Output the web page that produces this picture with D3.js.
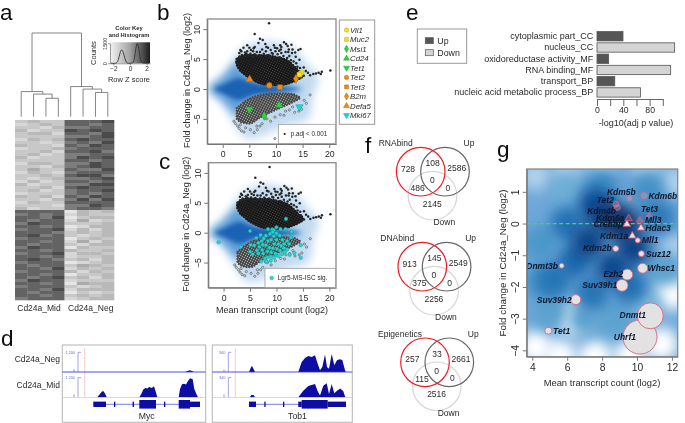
<!DOCTYPE html>
<html>
<head>
<meta charset="utf-8">
<script src="https://cdn.jsdelivr.net/npm/d3@7/dist/d3.min.js"></script>
<style>
html, body { margin: 0; padding: 0; background: #fff; }
svg { display: block; }
text { font-family: "Liberation Sans", Arial, sans-serif; fill: #2a2a2a; }
</style>
</head>
<body>
<div id="chart"></div>
<script>
//Panel a: heatmap rows, one digit per sample (0 = z -2.25, 9 = z +2.25)
const heatTop = ["23227778","12327767","22136677","31228787","23317768","22226678","13237877","22126768","32217687","12236777",
  "22317786","23126677","31226878","22227767","13326687","22136787","24227668","13216777","22327886","21236678",
  "13127767","31226688","22317877","23126778","12226767","32317687","22136868","13227777","22216687","31226776"];
const heatBottom = ["77770323","67671322","77680233","76771412","68772223","77670133","67781313","77762323","78672123","67770232",
  "77671413","76772133","68770322","77673223","67781332","77671223","78762313","67770123","76772432","77681323",
  "67773132","77670223","76782313","68771222","77670433","67772123","77681333","76770212","77672323","67771233"];
const heatSamples = ["Cd24a_Mid", "Cd24a_Neg"];
//dendrogram merge heights, in tree walk order
const mergeHeights = [100, 30, 27, 22, 36, 33, 29];
const histZ = [-2.3, -1.8, -1.5, -1.3, -1.1, -1, -0.8, -0.6, -0.4, -0.2, 0, 0.3, 0.5, 0.7, 0.88, 1.05, 1.25, 1.45, 1.7, 2.3];
const histCounts = [0, 0, 120, 500, 950, 1000, 800, 350, 60, 0, 0, 30, 300, 1100, 1500, 1100, 350, 50, 0, 0];

//Panels b, c: MA plot
const upX = [2.6, 3, 4, 5, 6, 7, 8, 10, 12, 13, 14, 15];
const upHigh = [4.6, 5.3, 5.6, 5.7, 5.6, 5.6, 5.6, 5.3, 4.8, 4.1, 3.2, 2.5];
const upLow = [4.2, 3.5, 2.6, 1.9, 1.4, 1, 0.8, 0.7, 0.9, 1.2, 1.6, 2.1];
const downX = [2.6, 3.5, 5, 7, 9, 11, 13, 14.5];
const downHigh = [-3.2, -2.5, -1.6, -1, -0.75, -0.7, -0.8, -1.4];
const downLow = [-5, -5.6, -5.8, -4.8, -3.9, -3.1, -2.3, -1.6];
const upOutX = [8.7, 6, 7, 7.5, 8, 6.7, 4.6, 3.9, 5, 5.3, 3.5, 4.2, 10.8, 11.5, 11.9, 12.2, 12.9, 13.1, 14.2, 14.6, 11, 9.6, 10.2, 8.5, 9, 6, 7.4, 13.7, 14.4, 13.8, 15.2, 15.6, 16, 16.4, 17, 17.5, 18, 18.4, 18.6, 20.2, 15.2, 14.5, 13, 12.3, 2.6, 3.1, 3.3, 5.8, 8.2, 9.8, 10.9,
  3.2, 3.6, 4, 4.4, 4.8, 5.2, 5.6, 6, 6.4, 6.4, 6.9, 7.3, 7.7, 8.1, 8.1, 8.6, 9, 9.4, 9.8, 9.9, 10.3, 10.7, 11, 11.4, 11.8, 12.1, 12.5, 12.8, 13.3, 13.2, 14, 14.6, 7, 5.7, 4.6, 9.2, 10.6, 12.4, 13.6];
const upOutY = [11, 9.2, 8.4, 8.2, 7.5, 7.7, 7.3, 6.9, 6.9, 6.5, 6.3, 6.1, 7.3, 7.8, 7.5, 7.2, 7.4, 6.6, 6.5, 6.7, 7, 7.3, 6.8, 6.9, 6.5, 7, 6.6, 5.4, 4.9, 4.3, 3.6, 3, 2.7, 2.3, 2.5, 2.6, 2.7, 2.5, 2.9, 3.1, 2.2, 3.5, 6, 6.2, 5, 6, 6.5, 6.8, 7, 6.9, 6.6,
  5.4, 5.7, 5.5, 5.9, 5.6, 5.9, 5.4, 5.8, 5.5, 6.2, 5.7, 5.3, 5.9, 5.5, 6.3, 5.7, 5.3, 5.9, 5.4, 6.3, 5.8, 5.3, 6, 5.5, 6.2, 5.2, 5.5, 4.8, 4.6, 3.8, 3.7, 2.9, 6.2, 6.3, 6.3, 6, 6.4, 6.6, 6.1];
const downOutX = [2.1, 2.4, 2.8, 3.1, 3.5, 4, 4.3, 5.2, 5.9, 6.4, 7, 7.4, 8.3, 9, 9.8, 10.8, 11.5, 11.8, 12.5, 13.5, 14.3, 14.8, 15.7, 16.4, 15.3, 9.8, 6.5, 3.3, 7.9, 13.1];
const downOutY = [-5.4, -5.8, -6.2, -6.6, -7, -7.2, -6.5, -6.8, -7.3, -6.2, -6.2, -5.8, -5, -5.4, -4.7, -4.3, -4.4, -3.7, -3.5, -3.9, -3.7, -3.4, -2.4, -1, -1.9, -8.3, -6.8, -6, -4.9, -3];
const fanX = [-3, 0, 2.5, 4, 8, 13, 16, 18, 17, 16, 12, 7, 4, 1, -1];
const fanY = [0, 2.5, 5.5, 7, 8, 7, 4, 2, -1, -5, -6, -8, -8, -4, -1.5];
const midX = [-2.5, 0, 3, 4, 8, 13, 15, 13, 8, 4, 3, 0];
const midY = [0, 1.9, 4.6, 3, 1, 0.5, 0, -0.6, -0.8, -2.5, -4.5, -1.9];
const coreX = [-1.5, 0, 3, 6, 11, 14.5, 11, 6, 3, 0];
const coreY = [0, 0.7, 1.8, 0.9, 0.4, 0, -0.5, -1, -1.8, -0.7];
const markerGenes = ["Vil1", "Muc2", "Msi1", "Cd24", "Tet1", "Tet2", "Tet3", "B2m", "Defa5", "Mki67"];
const markerMeans = [14.75, 14.4, 7.8, 10.6, 5, 8.75, 10.75, 13.75, 5.05, 14.4];
const markerFolds = [2.7, 2.4, -4.5, -2.7, -3.4, 0.6, 0.3, 1.7, 1.6, -3];
const lgr5X = [-0.94, 5, 11.8, 12.9, 14.6, 14.6, 13.4, 12.5, 11.6, 3.25, 5.1, 5, 7.1, 7.8, 8.9, 8.1, 10, 10.4, 11.1, 12, 12.75, 11.7, 10.75, 10, 9.2, 8.4, 9.5,
  6.2, 7, 7.6, 6.6, 5.8, 6.8, 7.4, 8, 8.4, 8, 8.7, 7.3, 6.3, 5.5, 6.6, 7.5, 8.3, 9, 9.3, 9.6, 9, 9.5, 10, 10.4, 10.1, 10.7, 9.8, 8.9, 8.3, 9.5, 10.9, 11.1, 10.6, 11.5, 11.4, 12, 12.4, 7.2, 8.8, 10, 9.3];
const lgr5Y = [-1.6, 0.28, 2.3, 0.17, -2.1, -4.2, -3.4, -3.7, -3.2, -2.4, -2.05, -3.2, -4.8, -4.3, -4.7, -4.8, -3.8, -3.9, -3.6, -2.8, -0.8, 0.6, 0.6, 0.9, 0.56, 0.6, 0.44,
  -0.9, -0.4, -1, -1.7, -2.1, -2.4, -2, -0.5, -1.4, -2.1, -2.5, -2.9, -3, -3.6, -3.5, -3.5, -3.1, -3.3, -2.6, -1.9, -1.2, -0.6, -1.2, -1.9, -2.7, -3, -3.5, -4, -4.1, -4.2, -2.2, -1.2, -0.5, -1.9, -2.6, -1.4, -1.9, -1.4, -0.2, -0.1, 0.1];
const maXTicks = [0, 5, 10, 15, 20];
const maYTicks = [-5, 0, 5, 10];

//Panel d: coverage tracks, position in kb
const mycMidX = [3.5, 3.7, 3.94, 4.1, 4.3, 4.44, 7.7, 7.9, 8.1, 8.3, 8.5, 8.7, 8.94, 9.17, 9.37, 9.5, 11.64, 11.77, 11.97, 12.17, 12.37, 12.57, 12.77, 13.04, 13.2, 13.44, 13.57];
const mycMidY = [0, 160, 340, 380, 200, 0, 0, 200, 480, 560, 540, 620, 560, 680, 300, 0, 0, 500, 800, 820, 780, 1000, 1160, 1100, 500, 150, 0];
const mycNegX = [12.3, 12.5, 12.77, 12.97, 13.17];
const mycNegY = [0, 60, 100, 60, 0];
const tobNegX = [3.67, 3.87, 3.97, 4.14, 4.27, 8.6, 8.94, 9.27, 9.6, 9.94, 10.27, 10.54, 10.77, 11, 11.27, 11.47, 11.67, 11.94, 12.2, 12.47, 12.74, 13, 13.27, 13.34];
const tobNegY = [0, 80, 104, 46, 0, 0, 173, 242, 276, 260, 288, 144, 29, 86, 300, 86, 58, 311, 115, 202, 219, 207, 30, 0];
const tobMidX = [3.74, 3.94, 4.14, 4.27, 8.6, 9.1, 9.6, 10.27, 10.54, 10.77, 11.1, 11.44, 11.67, 11.94, 12.2, 12.47, 12.8, 13.1, 13.3];
const tobMidY = [0, 46, 34, 0, 0, 115, 196, 230, 104, 29, 200, 242, 58, 230, 69, 115, 150, 104, 0];
const mycExons = [[3.1, 4.37, 1], [5.17, 5.3, 1], [7.03, 7.17, 1], [7.7, 9.37, 2], [10.17, 10.3, 1], [11.64, 12.77, 2], [12.77, 13.77, 1]];
const tobExons = [[3.67, 4.37, 1], [5.2, 5.33, 1], [7.07, 7.2, 1], [8.6, 8.94, 1], [8.94, 11.54, 2], [11.54, 13.37, 1]];
const trackNames = ["Cd24a_Neg", "Cd24a_Mid"];

//Panel e
const goTerms = ["cytoplasmic part_CC", "nucleus_CC", "oxidoreductase activity_MF", "RNA binding_MF", "transport_BP", "nucleic acid metabolic process_BP"];
const goValues = [39.5, 118, 17.7, 112, 27, 66];
const goDirection = ["Up", "Down", "Up", "Down", "Up", "Down"];

//Panel f
const vennNames = ["RNAbind", "DNAbind", "Epigenetics"];
const vennCounts = [[728, 108, 2586, 0, 486, 0, 2145], [913, 145, 2549, 0, 375, 0, 2256], [257, 33, 2661, 0, 115, 0, 2516]];

//Panel g
const epiGenes = ["Kdm5b", "Kdm6b", "Tet2", "Kdm4b", "Tet3", "Kdm6a", "Mll3", "Crebbp", "Hdac3", "Kdm1a", "Mll1", "Kdm2b", "Suz12", "Whsc1", "Dnmt3b", "Ezh2", "Suv39h1", "Suv39h2", "Tet1", "Dnmt1", "Uhrf1"];
const epiMean = [9.58, 10.41, 8.79, 8.87, 10.7, 9.52, 10.17, 9.42, 10.23, 9.73, 10.04, 8.78, 10.25, 10.32, 5.68, 9.44, 9.14, 6.49, 4.92, 10.76, 10.17];
const epiFold = [0.79, 0.88, 0.61, 0.51, 0.26, 0.16, 0.11, -0.02, -0.14, -0.39, -0.53, -0.79, -0.95, -1.41, -1.33, -1.61, -1.95, -2.4, -3.38, -2.91, -3.58];
const epiSize = [9, 13, 9, 9, 7, 7, 7, 7, 7, 7, 6.5, 9, 9, 26, 6.5, 31, 37, 26, 13, 175, 300];
const cloudX = [9.2, 8.2, 7.2, 9.8, 8.6, 6.4, 5.2, 7.4, 9.6, 11.2, 11.6, 4.4, 6, 8, 10.6, 4.6, 5, 7, 8.8, 10.5, 6, 7.6];
const cloudY = [0, 0.2, -0.6, -0.8, -1.4, -1.2, -1.8, -2.2, -2, 0.2, -1.4, -0.6, 1.1, 1.2, 1.1, -1.8, -2.8, -3, -3, -2.6, 0, 0.6];
const cloudLevel = [1, 0.95, 0.92, 0.92, 0.9, 0.78, 0.74, 0.74, 0.75, 0.72, 0.55, 0.6, 0.5, 0.65, 0.62, 0.62, 0.55, 0.55, 0.55, 0.45, 0.75, 0.88];
const paleX = [11.4, 12, 9.6, 7.6, 5.6, 4.2, 6.4];
const paleY = [-3.8, -2.2, -4.2, -4.2, -4.2, -3.9, -3];
const haloX = [4.2, 12.2, 12.2, 8, 6, 10.5];
const haloY = [1.5, 1.3, -0.8, 1.8, 1.7, 1.8];

//Layout
const width = 685;
const height = 423;
const svg = d3.select("#chart").append("svg").attr("width", width).attr("height", height);
const defs = svg.append("defs");
defs.append("filter").attr("id", "scan").attr("filterUnits", "userSpaceOnUse")
    .attr("x", 0).attr("y", 0).attr("width", width).attr("height", height)
    .append("feGaussianBlur").attr("stdDeviation", 0.3);
const root = svg.append("g").attr("filter", "url(#scan)");

function blur(id, dev) {
  defs.append("filter").attr("id", id)
      .attr("x", "-40%").attr("y", "-40%").attr("width", "180%").attr("height", "180%")
      .append("feGaussianBlur").attr("stdDeviation", dev);
}
blur("soft2", 2);
blur("soft4", 4);
blur("soft7", 7);

function label(parent, x, y, str, size, opts) {
  opts = opts || {};
  var t = parent.append("text").attr("x", x).attr("y", y).attr("font-size", size)
                .attr("text-anchor", opts.anchor || "start").text(str);
  if (opts.rotate) t.attr("transform", "rotate(-90 " + x + " " + y + ")");
  if (opts.weight) t.attr("font-weight", opts.weight);
  if (opts.italic) t.attr("font-style", "italic");
  if (opts.fill) t.style("fill", opts.fill);
  return t;
}

//panel letters
[["a", 0, 19.5], ["b", 157, 19.5], ["c", 159, 169], ["d", 1, 346], ["e", 406, 19.5], ["f", 365, 153], ["g", 497, 157]].forEach(function (d) {
  label(root, d[1], d[2], d[0], 22.5, {fill: "#111"});
});

//---- a: heatmap ----
const heatX = d3.scaleBand().domain(d3.range(8)).range([15, 114]);
const heatRows = heatTop.concat(heatBottom);
const heatY = d3.scaleBand().domain(d3.range(heatRows.length)).range([120, 300]);
const zGrey = d3.scaleLinear().domain([-2.4, 0, 2.4]).range(["#f4f4f4", "#a2a2a2", "#1c1c1c"]);
const panelA = root.append("g");
heatRows.forEach(function (row, i) {
  panelA.selectAll(null).data(row.split("").map(Number)).enter().append("rect")
        .attr("x", function (d, j) { return heatX(j); })
        .attr("y", heatY(i))
        .attr("width", heatX.bandwidth() + 0.3)
        .attr("height", heatY.bandwidth() + 0.3)
        .attr("fill", function (d) { return zGrey((d - 4.5) / 2.25); });
});
label(panelA, 39, 311, heatSamples[0], 8.5, {anchor: "middle"});
label(panelA, 90.7, 311, heatSamples[1], 8.5, {anchor: "middle"});

//dendrogram, heights through a scale
const dendroY = d3.scaleLinear().domain([0, 100]).range([116.7, 33]);
const leafX = function (i) { return heatX(i) + heatX.bandwidth() / 2; };
const tree = [[0, [1, [2, 3]]], [4, [5, [6, 7]]]];
var mergeIndex = 0;
function drawTree(node) {
  if (typeof node === "number") return {x: leafX(node), y: dendroY(0)};
  var h = dendroY(mergeHeights[mergeIndex++]);
  var a = drawTree(node[0]);
  var b = drawTree(node[1]);
  panelA.append("path").attr("fill", "none").attr("stroke", "#666").attr("stroke-width", 0.8)
        .attr("d", "M" + a.x + "," + a.y + "V" + h + "H" + b.x + "V" + b.y);
  return {x: (a.x + b.x) / 2, y: h};
}
drawTree(tree);

//color key
const keyX = d3.scaleLinear().domain([-2.4, 2.4]).range([110, 150]);
const keyY = d3.scaleLinear().domain([0, 1500]).range([63.3, 43.3]);
const keyGrad = defs.append("linearGradient").attr("id", "keyGrad");
d3.range(-2.4, 2.41, 0.4).forEach(function (z) {
  keyGrad.append("stop").attr("offset", ((z + 2.4) / 4.8 * 100) + "%").attr("stop-color", zGrey(z));
});
panelA.append("rect").attr("x", 110).attr("y", 42.3).attr("width", 40).attr("height", 21).attr("fill", "url(#keyGrad)");
panelA.append("path").attr("fill", "none").attr("stroke", "#333").attr("stroke-width", 0.9)
      .attr("d", d3.line().x(function (d, i) { return keyX(histZ[i]); }).y(function (d) { return keyY(d); }).curve(d3.curveMonotoneX)(histCounts));
const keyXAxis = panelA.append("g").attr("transform", "translate(0,63.3)")
      .call(d3.axisBottom(keyX).tickValues([-2, 0, 2]).tickFormat(d3.format("d")).tickSize(2).tickSizeOuter(0).tickPadding(1));
keyXAxis.selectAll("text").attr("font-size", 6.5);
const keyYAxis = panelA.append("g").attr("transform", "translate(110,0)")
      .call(d3.axisLeft(keyY).tickValues([0, 1500]).tickFormat(d3.format("d")).tickSize(2).tickSizeOuter(0));
keyYAxis.selectAll("text").attr("font-size", 5.5)
      .attr("x", 0).attr("y", -3).attr("dy", 0).attr("text-anchor", "middle").attr("transform", "rotate(-90)");
[keyXAxis, keyYAxis].forEach(function (a) {
  a.selectAll("path,line").attr("stroke", "#555").attr("stroke-width", 0.6);
});
label(panelA, 129, 29.5, "Color Key", 5.8, {anchor: "middle", weight: "bold"});
label(panelA, 129, 36.5, "and Histogram", 5.8, {anchor: "middle", weight: "bold"});
label(panelA, 96, 53, "Counts", 7.5, {anchor: "middle", rotate: true});
label(panelA, 129, 82, "Row Z score", 7.5, {anchor: "middle"});

//---- b, c: MA plots ----
function speckle(id, size, bg, dot, r) {
  const pat = defs.append("pattern").attr("id", id).attr("patternUnits", "userSpaceOnUse")
                  .attr("width", size).attr("height", size).attr("patternTransform", "rotate(27)");
  pat.append("rect").attr("width", size).attr("height", size).attr("fill", bg);
  pat.append("circle").attr("cx", size / 2).attr("cy", size / 2).attr("r", r).attr("fill", dot);
}
speckle("speckleDown", 2.3, "#363636", "#bdbdbd", 0.68);
speckle("speckleUp", 2.3, "#151515", "#4c4c4c", 0.6);

function drawMA(top, bottom, left, clipId) {
  const x = d3.scaleLinear().domain([-2.89, 21.26]).range([left, 336]);
  const y = d3.scaleLinear().domain([-9.2, 11.7]).range([bottom, top]);
  const p = root.append("g");
  defs.append("clipPath").attr("id", clipId).append("rect")
      .attr("x", left).attr("y", top).attr("width", 336 - left).attr("height", bottom - top);
  const inner = p.append("g").attr("clip-path", "url(#" + clipId + ")");
  const blob = d3.line().x(function (d) { return x(d[0]); }).y(function (d) { return y(d[1]); }).curve(d3.curveCardinalClosed);
  inner.append("path").attr("d", blob(d3.zip(fanX, fanY))).attr("fill", "#c2daf0").attr("filter", "url(#soft4)");
  inner.append("path").attr("d", blob(d3.zip(midX, midY))).attr("fill", "#5b9bd5").attr("filter", "url(#soft4)");
  inner.append("path").attr("d", blob(d3.zip(coreX, coreY))).attr("fill", "#1a62b2").attr("filter", "url(#soft2)");

  //dense parts of the clouds
  const cloudArea = d3.area().x(function (d) { return x(d[0]); }).y0(function (d) { return y(d[2]); }).y1(function (d) { return y(d[1]); }).curve(d3.curveMonotoneX);
  const upPts = d3.zip(upX, upHigh, upLow);
  const downPts = d3.zip(downX, downHigh, downLow);
  inner.append("path").attr("d", cloudArea(downPts)).attr("fill", "url(#speckleDown)");
  const edge = inner.append("g").attr("fill", "none").attr("stroke-linecap", "round").attr("stroke-dasharray", "0 2.8");
  edge.append("path").attr("stroke", "#4a4a4a").attr("stroke-width", 2)
      .attr("d", cloudArea(downPts));
  inner.append("path").attr("d", cloudArea(upPts)).attr("fill", "url(#speckleUp)");
  edge.append("path").attr("stroke", "#1d1d1d").attr("stroke-width", 3)
      .attr("d", cloudArea(upPts));

  //scattered genes outside the dense parts
  inner.selectAll(null).data(d3.zip(downOutX, downOutY)).enter().append("circle")
       .attr("cx", function (d) { return x(d[0]); }).attr("cy", function (d) { return y(d[1]); })
       .attr("r", 1.1).attr("fill", "#ddd").attr("stroke", "#444").attr("stroke-width", 0.6);
  inner.selectAll(null).data(d3.zip(upOutX, upOutY)).enter().append("circle")
       .attr("cx", function (d) { return x(d[0]); }).attr("cy", function (d) { return y(d[1]); })
       .attr("r", 1.25).attr("fill", "#262626");

  p.append("rect").attr("x", left).attr("y", top).attr("width", 336 - left).attr("height", bottom - top)
   .attr("fill", "none").attr("stroke", "#8a8a8a").attr("stroke-width", 1.3);
  const xa = p.append("g").attr("transform", "translate(0," + bottom + ")")
              .call(d3.axisBottom(x).tickValues(maXTicks).tickSize(4).tickSizeOuter(0).tickPadding(3));
  const ya = p.append("g").attr("transform", "translate(" + left + ",0)")
              .call(d3.axisLeft(y).tickValues(maYTicks).tickSize(4).tickSizeOuter(0));
  ya.selectAll("text").attr("x", 0).attr("y", -7).attr("dy", 0).attr("text-anchor", "middle").attr("transform", "rotate(-90)");
  [xa, ya].forEach(function (a) {
    a.select(".domain").attr("stroke", "#777");
    a.selectAll("line").attr("stroke", "#777");
    a.selectAll("text").attr("font-size", 8.7);
  });
  label(p, 189.5, (top + bottom) / 2 - 1, "Fold change in Cd24a_Neg (log2)", 9, {anchor: "middle", rotate: true});
  return {p: p, x: x, y: y};
}

const maB = drawMA(19, 144, 207.3, "clipB");
const maC = drawMA(162.7, 287.7, 208.3, "clipC");
label(maC.p, 272, 313, "Mean transcript count (log2)", 9, {anchor: "middle"});

//gene markers on b
const markerStyle = {
  Vil1: ["#f5e11d", d3.symbolCircle, 0], Muc2: ["#f5e11d", d3.symbolSquare, 0], Msi1: ["#2fd23c", d3.symbolDiamond, 0],
  Cd24: ["#2fd23c", d3.symbolTriangle, 0], Tet1: ["#2fd23c", d3.symbolTriangle, 180], Tet2: ["#f08a14", d3.symbolCircle, 0],
  Tet3: ["#f08a14", d3.symbolSquare, 0], B2m: ["#f08a14", d3.symbolDiamond, 0], Defa5: ["#f08a14", d3.symbolTriangle, 0],
  Mki67: ["#22d3dc", d3.symbolTriangle, 180]
};
function marker(parent, gene, px, py, size) {
  const s = markerStyle[gene];
  parent.append("path").attr("d", d3.symbol().type(s[1]).size(size)())
        .attr("transform", "translate(" + px + "," + py + ") rotate(" + s[2] + ")")
        .attr("fill", s[0]).attr("stroke", d3.color(s[0]).darker(0.8)).attr("stroke-width", 0.5);
}
markerGenes.forEach(function (g, i) {
  marker(maB.p, g, maB.x(markerMeans[i]), maB.y(markerFolds[i]), 24);
});
maB.p.append("rect").attr("x", 339.3).attr("y", 20).attr("width", 35.4).attr("height", 104.3)
     .attr("fill", "#fff").attr("stroke", "#999").attr("stroke-width", 1);
const legendY = d3.scalePoint().domain(markerGenes).range([30, 115.3]);
markerGenes.forEach(function (g) {
  marker(maB.p, g, 346.5, legendY(g), 15);
  label(maB.p, 350, legendY(g) + 2.8, g, 7.8, {italic: true});
});
maB.p.append("rect").attr("x", 278.3).attr("y", 124.3).attr("width", 57).attr("height", 19.2).attr("fill", "#fff").attr("stroke", "#999").attr("stroke-width", 0.8);
maB.p.append("circle").attr("cx", 284.7).attr("cy", 134).attr("r", 1.1).attr("fill", "#222");
label(maB.p, 290.7, 136.3, "p.adj < 0.001", 6.3);

//Lgr5 signature on c
maC.p.selectAll(null).data(d3.zip(lgr5X, lgr5Y)).enter().append("circle")
     .attr("cx", function (d) { return maC.x(d[0]); }).attr("cy", function (d) { return maC.y(d[1]); })
     .attr("r", 1.8).attr("fill", "#23d6d0").attr("stroke", "#128f8f").attr("stroke-width", 0.4);
maC.p.append("rect").attr("x", 265).attr("y", 268.3).attr("width", 70.5).attr("height", 19.2).attr("fill", "#fff").attr("stroke", "#999").attr("stroke-width", 0.8);
maC.p.append("circle").attr("cx", 271.7).attr("cy", 278).attr("r", 1.8).attr("fill", "#23d6d0").attr("stroke", "#128f8f").attr("stroke-width", 0.4);
label(maC.p, 277.7, 280.4, "Lgr5-MS-ISC sig.", 6.5);

//---- d: tracks ----
const trackBlue = "#0a0aa5";
function drawTracks(left, right, name, negX, negY, midXs, midYs, maxVal, maxText, exons, pinkKb, axisKb) {
  const p = root.append("g");
  const x = d3.scaleLinear().domain([0, (right - left) / 10]).range([left, right]);
  const negScale = d3.scaleLinear().domain([0, maxVal]).range([372, 352.3]);
  const midScale = d3.scaleLinear().domain([0, maxVal]).range([397.3, 377.6]);
  p.append("rect").attr("x", left).attr("y", 345).attr("width", right - left).attr("height", 77.3)
   .attr("fill", "#fff").attr("stroke", "#bbb").attr("stroke-width", 1.1);
  p.append("line").attr("x1", x(pinkKb)).attr("x2", x(pinkKb)).attr("y1", 348).attr("y2", 397).attr("stroke", "#f7c4c4").attr("stroke-width", 0.9);
  [negScale, midScale].forEach(function (s) {
    p.append("path").attr("fill", "none").attr("stroke", "#a3a3ea").attr("stroke-width", 1)
     .attr("d", "M" + (x(axisKb) + 3) + "," + s(maxVal) + "H" + x(axisKb) + "V" + s(0));
    label(p, x(axisKb) - 3, s(maxVal) + 1.5, maxText, 3.8, {anchor: "end", fill: "#7070cc"});
    label(p, x(axisKb) - 3, s(0), "0", 3.8, {anchor: "end", fill: "#7070cc"});
  });
  const line = function (scale) {
    return d3.area().x(function (d) { return x(d[0]); }).y0(scale(0)).y1(function (d) { return scale(d[1]); });
  };
  p.append("path").attr("d", line(negScale)(d3.zip(negX, negY))).attr("fill", trackBlue);
  p.append("path").attr("d", line(midScale)(d3.zip(midXs, midYs))).attr("fill", trackBlue);
  p.append("line").attr("x1", left).attr("x2", right).attr("y1", 372).attr("y2", 372).attr("stroke", "#3a3ae0").attr("stroke-width", 0.9);
  p.append("line").attr("x1", left).attr("x2", right).attr("y1", 397.5).attr("y2", 397.5).attr("stroke", "#c8c8c8").attr("stroke-width", 0.7);
  //gene model
  const first = d3.min(exons, function (e) { return e[0]; });
  const last = d3.max(exons, function (e) { return e[1]; });
  p.append("line").attr("x1", x(first)).attr("x2", x(last)).attr("y1", 404.3).attr("y2", 404.3).attr("stroke", "#6a6ae0").attr("stroke-width", 0.9);
  p.selectAll(null).data(exons).enter().append("rect")
   .attr("x", function (d) { return x(d[0]); })
   .attr("width", function (d) { return x(d[1]) - x(d[0]); })
   .attr("y", function (d) { return 404.3 - (d[2] === 2 ? 4.3 : 2.7); })
   .attr("height", function (d) { return d[2] === 2 ? 8.6 : 5.4; })
   .attr("fill", trackBlue);
  label(p, x((first + last) / 2), 419.3, name, 8.7, {anchor: "middle"});
}
drawTracks(62.3, 205.7, "Myc", mycNegX, mycNegY, mycMidX, mycMidY, 1200, "1,200", mycExons, 2.24, 1.57);
drawTracks(212.3, 352.3, "Tob1", tobNegX, tobNegY, tobMidX, tobMidY, 340, "340", tobExons, 2.3, 1.6);
label(root, 60, 362, trackNames[0], 8.5, {anchor: "end"});
label(root, 60, 388, trackNames[1], 8.5, {anchor: "end"});

//---- e: bars ----
const barX = d3.scaleLinear().domain([0, 100]).range([597, 662.8]);
const barY = d3.scaleBand().domain(goTerms).range([30.7, 98]).paddingInner(0.17).paddingOuter(0.08);
const goColor = {Up: "#555", Down: "#d4d4d4"};
const panelE = root.append("g");
panelE.selectAll(null).data(goTerms).enter().append("rect")
      .attr("x", barX(0))
      .attr("y", function (d) { return barY(d); })
      .attr("width", function (d, i) { return barX(goValues[i]) - barX(0); })
      .attr("height", barY.bandwidth())
      .attr("fill", function (d, i) { return goColor[goDirection[i]]; })
      .attr("stroke", "#555").attr("stroke-width", 0.8);
goTerms.forEach(function (t) {
  label(panelE, 593.3, barY(t) + barY.bandwidth() / 2 + 3, t, 9, {anchor: "end"});
});
const barAxis = panelE.append("g").attr("transform", "translate(0,99)")
      .call(d3.axisBottom(barX).tickValues([0, 20, 40, 60, 80, 100]).tickSize(7).tickSizeOuter(0).tickPadding(1)
      .tickFormat(function (d) { return d === 0 || d === 40 || d === 80 ? d : ""; }));
barAxis.selectAll("text").attr("font-size", 8.7);
barAxis.selectAll("path,line").attr("stroke", "#666");
label(panelE, 636, 126.3, "-log10(adj p value)", 9, {anchor: "middle"});
panelE.append("rect").attr("x", 417.3).attr("y", 29).attr("width", 49.4).attr("height", 34.3)
      .attr("fill", "#fff").attr("stroke", "#999").attr("stroke-width", 1);
[["Up", 40.7], ["Down", 52.7]].forEach(function (d) {
  panelE.append("rect").attr("x", 425.3).attr("y", d[1] - 3).attr("width", 8).attr("height", 6)
        .attr("fill", goColor[d[0]]).attr("stroke", "#555").attr("stroke-width", 0.7);
  label(panelE, 437.3, d[1] + 3.2, d[0], 8.8);
});

//---- f: venns ----
const vennOrigins = [[420.7, 171.7], [422.3, 266.7], [425, 362.3]];
const vennSlots = [[-12.7, -3], [12, -8.4], [36, -3.4], [11.6, 8.6], [-3, 16.3], [27.3, 16], [11.6, 32]];
vennNames.forEach(function (name, i) {
  const ox = vennOrigins[i][0];
  const oy = vennOrigins[i][1];
  const v = root.append("g").attr("transform", "translate(" + ox + "," + oy + ")");
  [[11.8, 24, "#d6d6d6"], [24.3, 0, "#666"], [0, 0, "#ee1c25"]].forEach(function (c) {
    v.append("circle").attr("cx", c[0]).attr("cy", c[1]).attr("r", 24.3)
     .attr("fill", "none").attr("stroke", c[2]).attr("stroke-width", 1.2);
  });
  vennCounts[i].forEach(function (n, j) {
    label(v, vennSlots[j][0], vennSlots[j][1] + 3, n, 8.5, {anchor: "middle"});
  });
  label(v, -25, -25.5, name, 8.5, {anchor: "middle"});
  label(v, 48.3, -25.5, "Up", 8.5, {anchor: "middle"});
  label(v, 23.6, 53.3, "Down", 8.5, {anchor: "middle"});
});

//---- g: bubbles ----
const gX = d3.scaleLinear().domain([3.68, 12.33]).range([526.7, 677.7]);
const gY = d3.scaleLinear().domain([-4.2, 1.72]).range([356.7, 169]);
const gR = d3.scaleSqrt().domain([0, 300]).range([0, 17]);
const panelG = root.append("g");
defs.append("clipPath").attr("id", "clipG").append("rect").attr("x", 526.7).attr("y", 169).attr("width", 151).attr("height", 187.7);
const gInner = panelG.append("g").attr("clip-path", "url(#clipG)");
gInner.append("rect").attr("x", 526.7).attr("y", 169).attr("width", 151).attr("height", 187.7).attr("fill", "#6ea7d8");
gInner.selectAll(null).data(d3.zip(paleX, paleY)).enter().append("circle")
      .attr("cx", function (d) { return gX(d[0]); }).attr("cy", function (d) { return gY(d[1]); })
      .attr("r", 17).attr("fill", "#fff").attr("filter", "url(#soft7)");
gInner.selectAll(null).data(d3.zip(haloX, haloY)).enter().append("circle")
      .attr("cx", function (d) { return gX(d[0]); }).attr("cy", function (d) { return gY(d[1]); })
      .attr("r", 15).attr("fill", "#b3d2ec").attr("filter", "url(#soft7)");
const cloudPts = d3.zip(cloudX, cloudY, cloudLevel).sort(function (a, b) { return a[2] - b[2]; });
gInner.selectAll(null).data(cloudPts).enter().append("circle")
      .attr("cx", function (d) { return gX(d[0]); }).attr("cy", function (d) { return gY(d[1]); })
      .attr("r", 17).attr("fill", function (d) { return d3.interpolateBlues(d[2]); }).attr("filter", "url(#soft7)");
gInner.append("line").attr("x1", 526.7).attr("x2", 677.7).attr("y1", gY(0)).attr("y2", gY(0))
      .attr("stroke", "#39e05a").attr("stroke-width", 1.2).attr("stroke-dasharray", "4 2.5");

const triangleGenes = ["Tet3", "Kdm6a", "Mll3", "Crebbp", "Hdac3", "Kdm1a"];
//label placement: dx, dy from the point, anchor
const labelPlace = {
  Kdm5b: [6, -6, "end"], Kdm6b: [4.3, 0, "start"], Tet2: [-2, -4.3, "end"], Kdm4b: [-1.3, 3.3, "end"], Tet3: [-8.3, -6, "start"],
  Kdm6a: [-4.3, 0, "end"], Mll3: [5, 0, "start"], Crebbp: [-3.7, 0.3, "end"], Hdac3: [4.3, 0, "start"], Kdm1a: [-4, 0, "end"],
  Mll1: [4.3, 0, "start"], Kdm2b: [-4, 0, "end"], Suz12: [4.7, 0, "start"], Whsc1: [5, 0, "start"], Dnmt3b: [-3.7, 0, "end"],
  Ezh2: [-4, 0, "end"], Suv39h1: [-4.7, 0, "end"], Suv39h2: [-4, 0, "end"], Tet1: [4.7, 0, "start"], Dnmt1: [-4.3, -0.7, "end"], Uhrf1: [-4, 0, "end"]
};
const epiOrder = d3.range(epiGenes.length).sort(function (a, b) { return epiSize[b] - epiSize[a]; });
epiOrder.forEach(function (i) {
  const px = gX(epiMean[i]);
  const py = gY(epiFold[i]);
  const faded = epiFold[i] > 0.05;
  if (triangleGenes.indexOf(epiGenes[i]) >= 0) {
    gInner.append("path").attr("d", d3.symbol().type(d3.symbolTriangle).size(24)())
          .attr("transform", "translate(" + px + "," + py + ")")
          .attr("fill", "#e4e4e4").attr("fill-opacity", faded ? 0.2 : 1).attr("stroke", "#d8506e").attr("stroke-width", 0.9);
  } else {
    gInner.append("circle").attr("cx", px).attr("cy", py).attr("r", gR(epiSize[i]))
          .attr("fill", "#e2e2e2").attr("fill-opacity", faded ? 0.2 : 1).attr("stroke", "#e0607c").attr("stroke-width", 0.9);
  }
});
epiGenes.forEach(function (g, i) {
  const l = labelPlace[g];
  label(panelG, gX(epiMean[i]) + l[0], gY(epiFold[i]) + l[1] + 2.9, g, 8.5, {anchor: l[2], weight: "bold", italic: true, fill: "#11162a"});
});
panelG.append("rect").attr("x", 526.7).attr("y", 169).attr("width", 151).attr("height", 187.7)
      .attr("fill", "none").attr("stroke", "#8a8a8a").attr("stroke-width", 1.3);
const gxa = panelG.append("g").attr("transform", "translate(0,356.7)")
      .call(d3.axisBottom(gX).tickValues([4, 6, 8, 10, 12]).tickSize(4).tickSizeOuter(0).tickPadding(3));
const gya = panelG.append("g").attr("transform", "translate(526.7,0)")
      .call(d3.axisLeft(gY).tickValues([-4, -3, -2, -1, 0, 1]).tickFormat(d3.format("d")).tickSize(4).tickSizeOuter(0));
gya.selectAll("text").attr("x", 0).attr("y", -8).attr("dy", 0).attr("text-anchor", "middle").attr("transform", "rotate(-90)");
[gxa, gya].forEach(function (a) {
  a.select(".domain").attr("stroke", "#777");
  a.selectAll("line").attr("stroke", "#777");
  a.selectAll("text").attr("font-size", 10.3);
});
label(panelG, 506, 263, "Fold change in Cd24a_Neg (log2)", 9.8, {anchor: "middle", rotate: true});
label(panelG, 602, 385.5, "Mean transcript count (log2)", 9.4, {anchor: "middle"});
</script>
</body>
</html>
